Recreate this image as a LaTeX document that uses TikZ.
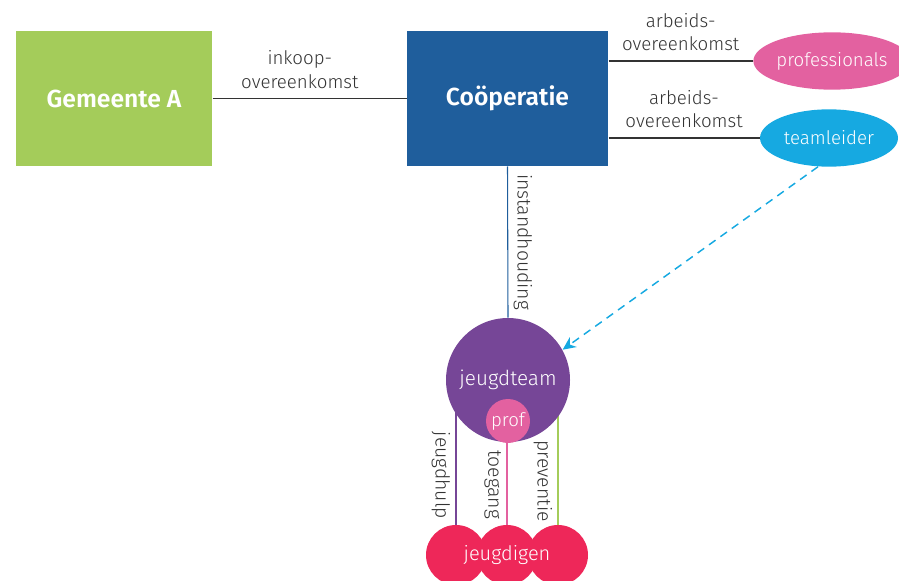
\documentclass[tikz,border=0pt]{standalone}
\usepackage{fontspec}
\setmainfont{Fira Sans Light}[BoldFont={Fira Sans SemiBold}]
\usetikzlibrary{shapes.geometric,arrows.meta,backgrounds}

\definecolor{gemgreen}{HTML}{A4CC5A}
\definecolor{coopblue}{HTML}{1F5E9C}
\definecolor{profpink}{HTML}{E361A0}
\definecolor{tlcyan}{HTML}{16A9E1}
\definecolor{jtpurple}{HTML}{764697}
\definecolor{jdred}{HTML}{EE2759}
\definecolor{prevgreen}{HTML}{A4CC5A}
\definecolor{labelgray}{HTML}{333333}

\tikzset{every picture/.style={line width=0.75pt}}
\tikzset{
	box/.style={text=white, font=\fontsize{18.5}{22}\selectfont\bfseries, minimum height=101.25pt, inner sep=0pt},
	blob/.style={ellipse, text=white, font=\fontsize{14}{17}\selectfont, inner sep=0pt, minimum height=43pt},
	ball/.style={circle, text=white, font=\fontsize{14}{17}\selectfont, inner sep=0pt},
	lbl/.style={text=labelgray, font=\fontsize{14}{17.5}\selectfont, align=center, inner sep=7pt},
	vlbl/.style={text=labelgray, font=\fontsize{14.5}{17.5}\selectfont, inner sep=4pt},
	link/.style={draw=labelgray, line width=1.1pt},
	thinlink/.style={line width=0.8pt},
	teamarrow/.style={draw=tlcyan, line width=1.1pt, dash pattern=on 6pt off 4.5pt, -{Stealth[length=9.75pt,width=9pt]}}
}

\begin{document}
\begin{tikzpicture}[x=0.75pt,y=0.75pt,yscale=-1,xscale=1]
	\useasboundingbox (0,0) rectangle (899,581);

	% Boxes
	\node[box, fill=gemgreen, minimum width=147pt] (gem) at (114,98.5) {Gemeente A};
	\node[box, fill=coopblue, minimum width=150.75pt] (coop) at (507.5,98.5) {Coöperatie};
	% Ellipses
	\node[blob, fill=profpink, minimum width=98pt] (profs) at (832,61) {professionals};
	\node[blob, fill=tlcyan, minimum width=103.5pt] (tl) at (829,138) {teamleider};
	% Circles
	\node[ball, fill=jtpurple, minimum size=93pt, font=\fontsize{15.5}{18}\selectfont] (jteam) at (508,380) {jeugdteam};
	\node[ball, fill=profpink, minimum size=33pt] (prof) at (508,421) {prof};
	\foreach \x/\n in {456/1,507/2,558/3}
		\node[ball, fill=jdred, minimum size=45pt] (jd\n) at (\x,555) {};
	\node[text=white, font=\fontsize{15}{18}\selectfont] (jdtext) at (jd2) {jeugdigen};

	% Agreements
	\draw[link] (gem.east) -- node[lbl, above, pos=0.45] {inkoop-\\overeenkomst} (coop.west);
	\draw[link] (profs.west -| coop.east) -- node[lbl, above] {arbeids-\\overeenkomst} (profs.west);
	\draw[link] (tl.west -| coop.east) -- node[lbl, above] {arbeids-\\overeenkomst} (tl.west);
	\draw[thinlink, draw=coopblue] (coop.south) -- node[vlbl, rotate=-90, anchor=south] {instandhouding} (jteam.north);
	\draw[teamarrow] (tl.249) -- (jteam.29);

	% Tasks of the team
	\begin{scope}[on background layer]
		\draw[thinlink, draw=jtpurple] (jd1.north) -- node[vlbl, rotate=-90, anchor=north, pos=0.34] {jeugdhulp} (jd1.north |- jteam.center);
		\draw[thinlink, draw=profpink] (jd2.north) -- node[vlbl, rotate=-90, anchor=north, pos=0.385] {toegang} (jd2.north |- prof.center);
		\draw[thinlink, draw=prevgreen] (jd3.north) -- node[vlbl, rotate=-90, anchor=north, pos=0.30] {preventie} (jd3.north |- jteam.center);
	\end{scope}
\end{tikzpicture}
\end{document}
